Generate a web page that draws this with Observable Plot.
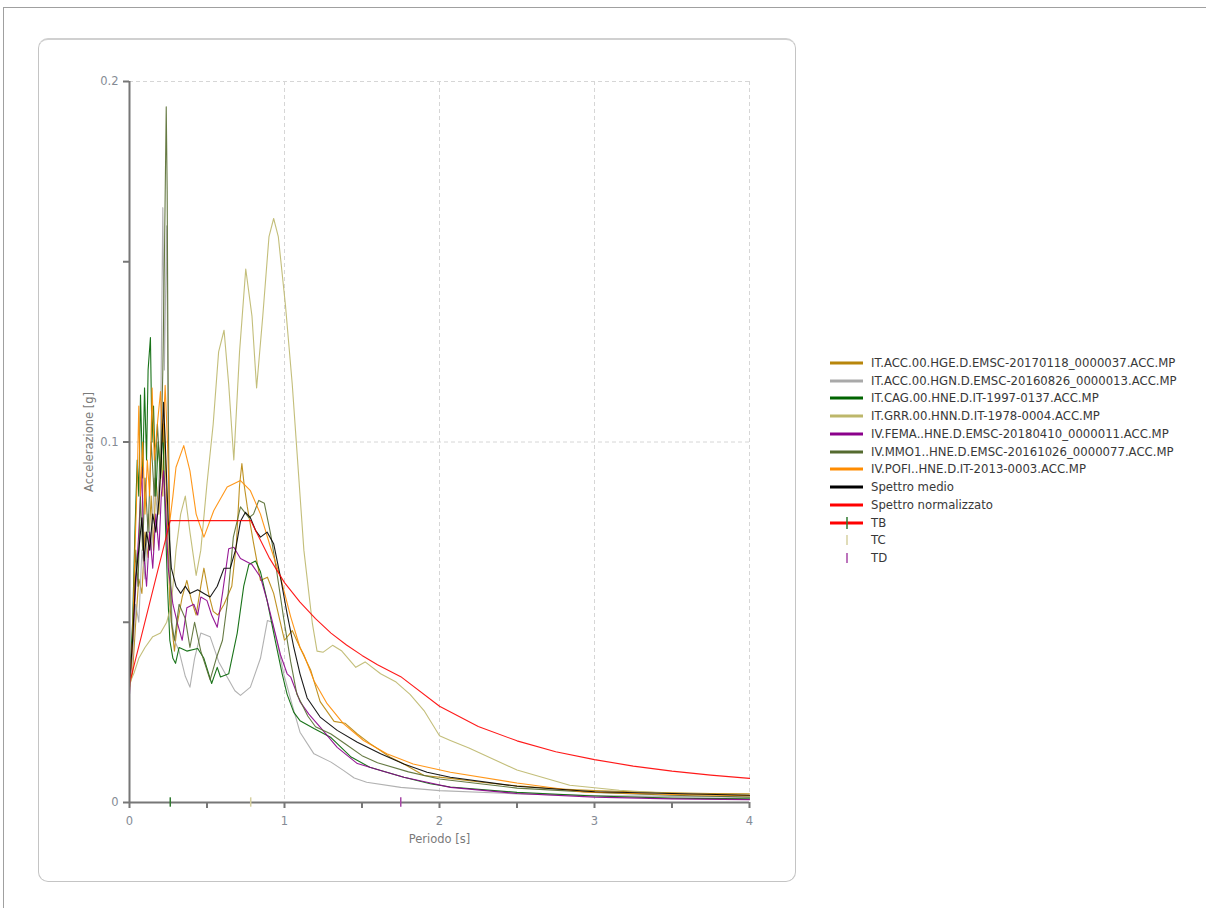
<!DOCTYPE html>
<html>
<head>
<meta charset="utf-8">
<script src="https://cdn.jsdelivr.net/npm/d3@7"></script>
<script src="https://cdn.jsdelivr.net/npm/@observablehq/plot@0.6"></script>
<style>
  html, body { margin:0; padding:0; background:#fff; }
  body { width:1206px; height:908px; position:relative; overflow:hidden; font-family:"DejaVu Sans", Verdana, sans-serif; }
  #frame { position:absolute; left:3px; top:7px; width:1203px; height:901px; border-top:1px solid #a0a0a0; border-left:1px solid #a0a0a0; }
  #panel { position:absolute; left:38px; top:38px; width:758px; height:844px; border:1px solid #c4c4c4; border-top:2px solid #d0d0d0; border-radius:10px; box-sizing:border-box; }
  #chart { position:absolute; left:40px; top:40px; }
  #legend { position:absolute; left:830px; top:354px; font-size:11.7px; color:#383838; }
  .row { height:17.75px; display:flex; align-items:center; white-space:nowrap; }
  .row svg { margin-right:8px; flex:none; }
</style>
</head>
<body>
<div id="frame"></div>
<div id="panel"></div>
<div id="chart"></div>
<div id="legend"></div>
<script>
// ---- data (period [s], acceleration [g]) ----
const seriesNames = [
  "IT.ACC.00.HGE.D.EMSC-20170118_0000037.ACC.MP",
  "IT.ACC.00.HGN.D.EMSC-20160826_0000013.ACC.MP",
  "IT.CAG.00.HNE.D.IT-1997-0137.ACC.MP",
  "IT.GRR.00.HNN.D.IT-1978-0004.ACC.MP",
  "IV.FEMA..HNE.D.EMSC-20180410_0000011.ACC.MP",
  "IV.MMO1..HNE.D.EMSC-20161026_0000077.ACC.MP",
  "IV.POFI..HNE.D.IT-2013-0003.ACC.MP",
  "Spettro medio",
  "Spettro normalizzato"
];
const seriesColors = ["#B8860B","#A9A9A9","#006400","#BDB76B","#8B008B","#556B2F","#FF8C00","#000000","#FF0000"];

const accHGE = [[0,0.032],[0.02,0.036],[0.04,0.05],[0.06,0.062],[0.08,0.058],[0.1,0.075],[0.12,0.068],[0.14,0.085],[0.155,0.07],[0.17,0.09],[0.19,0.08],[0.205,0.1],[0.215,0.085],[0.225,0.105],[0.235,0.09],[0.25,0.07],[0.26,0.055],[0.275,0.048],[0.29,0.042],[0.31,0.05],[0.34,0.057],[0.37,0.0616],[0.4,0.056],[0.43,0.052],[0.46,0.06],[0.48,0.065],[0.51,0.058],[0.54,0.053],[0.57,0.052],[0.61,0.055],[0.66,0.06],[0.69,0.072],[0.71,0.088],[0.725,0.094],[0.74,0.088],[0.76,0.082],[0.8,0.072],[0.845,0.0616],[0.89,0.0625],[0.93,0.058],[0.97,0.0505],[1.0,0.045],[1.05,0.0477],[1.1,0.043],[1.17,0.0366],[1.23,0.028],[1.32,0.0225],[1.39,0.022],[1.47,0.019],[1.55,0.0164],[1.68,0.0126],[1.77,0.0107],[1.9,0.0075],[2.07,0.0067],[2.3,0.0055],[2.5,0.0046],[2.75,0.0038],[3,0.0033],[3.25,0.003],[3.5,0.0027],[3.75,0.0025],[4,0.0024]];
const accHGN = [[0,0.033],[0.02,0.04],[0.04,0.055],[0.06,0.05],[0.08,0.07],[0.1,0.062],[0.12,0.08],[0.14,0.07],[0.16,0.09],[0.18,0.08],[0.2,0.1],[0.215,0.165],[0.225,0.12],[0.24,0.16],[0.25,0.1],[0.26,0.07],[0.275,0.05],[0.29,0.045],[0.32,0.042],[0.36,0.035],[0.39,0.032],[0.42,0.04],[0.46,0.047],[0.52,0.046],[0.576,0.039],[0.63,0.0348],[0.68,0.031],[0.716,0.0297],[0.78,0.032],[0.845,0.04],[0.89,0.0505],[0.92,0.05],[0.95,0.045],[0.995,0.0357],[1.05,0.027],[1.1,0.0195],[1.19,0.0135],[1.3,0.0112],[1.38,0.0089],[1.45,0.0068],[1.53,0.0056],[1.75,0.0042],[2.0,0.0033],[2.5,0.0024],[3,0.0019],[3.5,0.0017],[4,0.0015]];
const cagHNE = [[0,0.033],[0.02,0.05],[0.035,0.075],[0.05,0.095],[0.06,0.085],[0.071,0.113],[0.085,0.09],[0.097,0.115],[0.11,0.095],[0.12,0.12],[0.135,0.129],[0.145,0.1],[0.155,0.11],[0.17,0.085],[0.185,0.1],[0.2,0.09],[0.215,0.105],[0.23,0.08],[0.245,0.06],[0.26,0.045],[0.28,0.04],[0.297,0.0386],[0.32,0.043],[0.37,0.042],[0.44,0.0427],[0.48,0.04],[0.53,0.033],[0.566,0.0375],[0.587,0.0348],[0.64,0.0357],[0.695,0.047],[0.737,0.06],[0.77,0.066],[0.813,0.067],[0.845,0.064],[0.888,0.056],[0.94,0.045],[0.985,0.0357],[1.017,0.03],[1.06,0.025],[1.1,0.0227],[1.19,0.0205],[1.3,0.018],[1.43,0.0126],[1.55,0.0098],[1.77,0.007],[1.94,0.0052],[2.07,0.0043],[2.5,0.0028],[3,0.0018],[3.5,0.0012],[4,0.001]];
const grrHNN = [[0,0.033],[0.03,0.036],[0.06,0.04],[0.1,0.043],[0.15,0.046],[0.2,0.047],[0.24,0.05],[0.27,0.055],[0.3,0.07],[0.33,0.08],[0.36,0.085],[0.39,0.075],[0.43,0.063],[0.46,0.07],[0.5,0.0885],[0.54,0.105],[0.575,0.125],[0.61,0.131],[0.64,0.116],[0.673,0.095],[0.71,0.125],[0.75,0.148],[0.79,0.135],[0.82,0.115],[0.86,0.135],[0.9,0.157],[0.93,0.162],[0.96,0.157],[1.006,0.138],[1.05,0.116],[1.08,0.0976],[1.125,0.07],[1.18,0.0496],[1.21,0.042],[1.25,0.0417],[1.31,0.0436],[1.37,0.042],[1.46,0.0375],[1.52,0.039],[1.62,0.0357],[1.72,0.0334],[1.81,0.03],[1.9,0.0255],[2.0,0.0185],[2.07,0.0172],[2.19,0.0151],[2.5,0.009],[2.84,0.0048],[3.16,0.0034],[3.6,0.0022],[4,0.002]];
const femaHNE = [[0,0.03],[0.02,0.045],[0.04,0.06],[0.06,0.075],[0.08,0.093],[0.09,0.07],[0.11,0.06],[0.13,0.075],[0.15,0.065],[0.17,0.08],[0.19,0.07],[0.205,0.085],[0.22,0.092],[0.235,0.08],[0.25,0.065],[0.28,0.055],[0.31,0.0496],[0.34,0.045],[0.37,0.054],[0.415,0.055],[0.44,0.052],[0.46,0.057],[0.5,0.056],[0.53,0.052],[0.566,0.0486],[0.6,0.058],[0.64,0.0704],[0.673,0.0708],[0.716,0.0677],[0.79,0.066],[0.845,0.0625],[0.888,0.056],[0.94,0.047],[0.974,0.041],[1.017,0.0357],[1.04,0.0348],[1.1,0.028],[1.157,0.0245],[1.23,0.0209],[1.34,0.0153],[1.47,0.0108],[1.62,0.0089],[1.77,0.007],[1.92,0.0056],[2.07,0.0042],[2.5,0.0025],[3,0.0015],[3.5,0.001],[4,0.0008]];
const mmo1HNE = [[0,0.033],[0.02,0.045],[0.04,0.07],[0.055,0.06],[0.07,0.085],[0.085,0.07],[0.1,0.09],[0.12,0.075],[0.14,0.1],[0.16,0.085],[0.18,0.105],[0.2,0.09],[0.215,0.12],[0.225,0.15],[0.237,0.193],[0.243,0.17],[0.25,0.11],[0.26,0.07],[0.27,0.05],[0.29,0.045],[0.32,0.055],[0.36,0.051],[0.39,0.043],[0.42,0.05],[0.46,0.042],[0.52,0.034],[0.56,0.04],[0.6,0.045],[0.63,0.055],[0.67,0.0736],[0.716,0.082],[0.77,0.079],[0.8,0.08],[0.834,0.0838],[0.87,0.083],[0.91,0.0746],[0.95,0.064],[0.995,0.051],[1.04,0.039],[1.08,0.03],[1.15,0.024],[1.2,0.021],[1.3,0.019],[1.4,0.016],[1.5,0.013],[1.6,0.011],[1.8,0.0085],[2.0,0.0065],[2.5,0.004],[3,0.0028],[3.5,0.002],[4,0.0015]];
const pofiHNE = [[0,0.031],[0.02,0.045],[0.035,0.07],[0.05,0.09],[0.06,0.11],[0.07,0.085],[0.085,0.1],[0.1,0.08],[0.115,0.095],[0.13,0.085],[0.146,0.115],[0.16,0.095],[0.18,0.105],[0.2,0.114],[0.215,0.1],[0.23,0.1157],[0.245,0.1],[0.26,0.078],[0.28,0.085],[0.3,0.093],[0.35,0.099],[0.39,0.092],[0.43,0.08],[0.48,0.0736],[0.544,0.081],[0.63,0.0875],[0.716,0.0893],[0.78,0.0865],[0.845,0.08],[0.91,0.0708],[0.974,0.0625],[1.04,0.0515],[1.1,0.043],[1.125,0.041],[1.19,0.0338],[1.275,0.0274],[1.38,0.0219],[1.51,0.0172],[1.66,0.0135],[1.83,0.0107],[2.07,0.0084],[2.5,0.0054],[2.93,0.0029],[3.5,0.0022],[4,0.0019]];
const spettroMedio = [[0,0.033],[0.02,0.045],[0.04,0.0625],[0.06,0.07],[0.08,0.079],[0.095,0.067],[0.11,0.075],[0.13,0.07],[0.15,0.08],[0.17,0.075],[0.19,0.084],[0.205,0.095],[0.22,0.111],[0.235,0.095],[0.25,0.078],[0.27,0.065],[0.3,0.06],[0.33,0.058],[0.36,0.06],[0.39,0.058],[0.44,0.059],[0.48,0.058],[0.52,0.057],[0.566,0.06],[0.61,0.065],[0.65,0.065],[0.684,0.07],[0.716,0.078],[0.748,0.0805],[0.78,0.079],[0.813,0.0755],[0.845,0.0736],[0.888,0.075],[0.93,0.0718],[0.974,0.0625],[1.017,0.0523],[1.06,0.043],[1.1,0.0357],[1.146,0.029],[1.23,0.0237],[1.34,0.02],[1.47,0.0167],[1.62,0.0135],[1.77,0.0107],[1.92,0.0084],[2.07,0.007],[2.5,0.0045],[3,0.003],[3.5,0.0025],[4,0.002]];
const spettroNormalizzato = [[0,0.033],[0.263,0.0782],[0.782,0.0782],[0.9,0.068],[1,0.061],[1.1,0.0556],[1.2,0.051],[1.3,0.047],[1.4,0.0437],[1.5,0.0408],[1.6,0.0382],[1.75,0.0349],[2,0.0267],[2.25,0.0211],[2.5,0.0171],[2.75,0.0141],[3,0.0119],[3.25,0.0101],[3.5,0.0087],[3.75,0.0076],[4,0.0067]];

const periodMarkers = ["TB","TC","TD"];
const periodMarkerValues = [0.263, 0.782, 1.75];
const periodMarkerColors = ["#2f7a2f","#d6d0a0","#a646a6"];

const xTicks = [0,1,2,3,4];
const xMinorTicks = [0.5,1.5,2.5,3.5];
const yTicks = [0,0.1,0.2];
const yMinorTicks = [0.05,0.15];

// ---- build long table ----
const allSeries = [accHGE, accHGN, cagHNE, grrHNN, femaHNE, mmo1HNE, pofiHNE, spettroMedio, spettroNormalizzato];
const rows = [];
allSeries.forEach((s, i) => s.forEach(([t, a]) => rows.push({name: seriesNames[i], t, a})));
const markers = periodMarkers.map((n, i) => ({name: n, t: periodMarkerValues[i], color: periodMarkerColors[i]}));

const axisColor = "#777777";
const textColor = "#858b95";

const chart = Plot.plot({
  width: 740, height: 820,
  marginLeft: 89, marginRight: 31, marginTop: 41, marginBottom: 58,
  style: {fontFamily: "DejaVu Sans, Verdana, sans-serif", fontSize: "11.5px", color: textColor, background: "transparent"},
  x: {domain: [0, 4]},
  y: {domain: [0, 0.2]},
  color: {domain: seriesNames, range: seriesColors},
  marks: [
    Plot.ruleX(xTicks.slice(1), {stroke: "#d6d6d6", strokeDasharray: "4,3"}),
    Plot.ruleY(yTicks.slice(1), {stroke: "#d6d6d6", strokeDasharray: "4,3"}),
    Plot.line(rows, {x: "t", y: "a", z: "name", stroke: "name", strokeWidth: 1.1, strokeOpacity: 0.9}),
    Plot.ruleX([0], {stroke: axisColor, strokeWidth: 2}),
    Plot.ruleY([0], {stroke: axisColor, strokeWidth: 2}),
    Plot.axisX(xTicks, {tickSize: 6, tickPadding: 8, stroke: axisColor, strokeWidth: 2, fill: textColor, label: null, tickFormat: d => String(d)}),
    Plot.axisX(xMinorTicks, {tickSize: 6, stroke: axisColor, strokeWidth: 2, label: null, tickFormat: () => ""}),
    Plot.axisY(yTicks, {tickSize: 6, tickPadding: 5, stroke: axisColor, strokeWidth: 2, fill: textColor, label: null, tickFormat: d => String(d)}),
    Plot.axisY(yMinorTicks, {tickSize: 6, stroke: axisColor, strokeWidth: 2, label: null, tickFormat: () => ""}),
    Plot.ruleX(markers, {x: "t", y1: -0.0013, y2: 0.0013, stroke: "color", strokeWidth: 1.5}),
    Plot.text(["Periodo [s]"], {frameAnchor: "bottom", dy: 40, fill: "#7a7a7a", fontSize: 11.5}),
    Plot.text(["Accelerazione [g]"], {frameAnchor: "left", textAnchor: "middle", dx: -40, rotate: -90, fill: "#7a7a7a", fontSize: 11.5})
  ]
});
document.getElementById("chart").appendChild(chart);

// ---- legend ----
const legend = document.getElementById("legend");
const ns = "http://www.w3.org/2000/svg";
function swatch(kind, color) {
  const svg = document.createElementNS(ns, "svg");
  svg.setAttribute("width", 33); svg.setAttribute("height", 14);
  const add = (tag, attrs) => { const el = document.createElementNS(ns, tag); for (const k in attrs) el.setAttribute(k, attrs[k]); svg.appendChild(el); };
  if (kind === "line") add("line", {x1: 0, x2: 33, y1: 7, y2: 7, stroke: color, "stroke-width": 3});
  if (kind === "tb") { add("line", {x1: 0, x2: 33, y1: 7, y2: 7, stroke: "#ff0000", "stroke-width": 3}); add("line", {x1: 17, x2: 17, y1: 1, y2: 13, stroke: color, "stroke-width": 1.5}); }
  if (kind === "tick") add("line", {x1: 17, x2: 17, y1: 2, y2: 12, stroke: color, "stroke-width": 1.5});
  return svg;
}
seriesNames.forEach((n, i) => {
  const r = document.createElement("div"); r.className = "row";
  r.appendChild(swatch("line", seriesColors[i]));
  r.appendChild(document.createTextNode(n));
  legend.appendChild(r);
});
periodMarkers.forEach((n, i) => {
  const r = document.createElement("div"); r.className = "row";
  r.appendChild(swatch(i === 0 ? "tb" : "tick", periodMarkerColors[i]));
  r.appendChild(document.createTextNode(n));
  legend.appendChild(r);
});
</script>
</body>
</html>
